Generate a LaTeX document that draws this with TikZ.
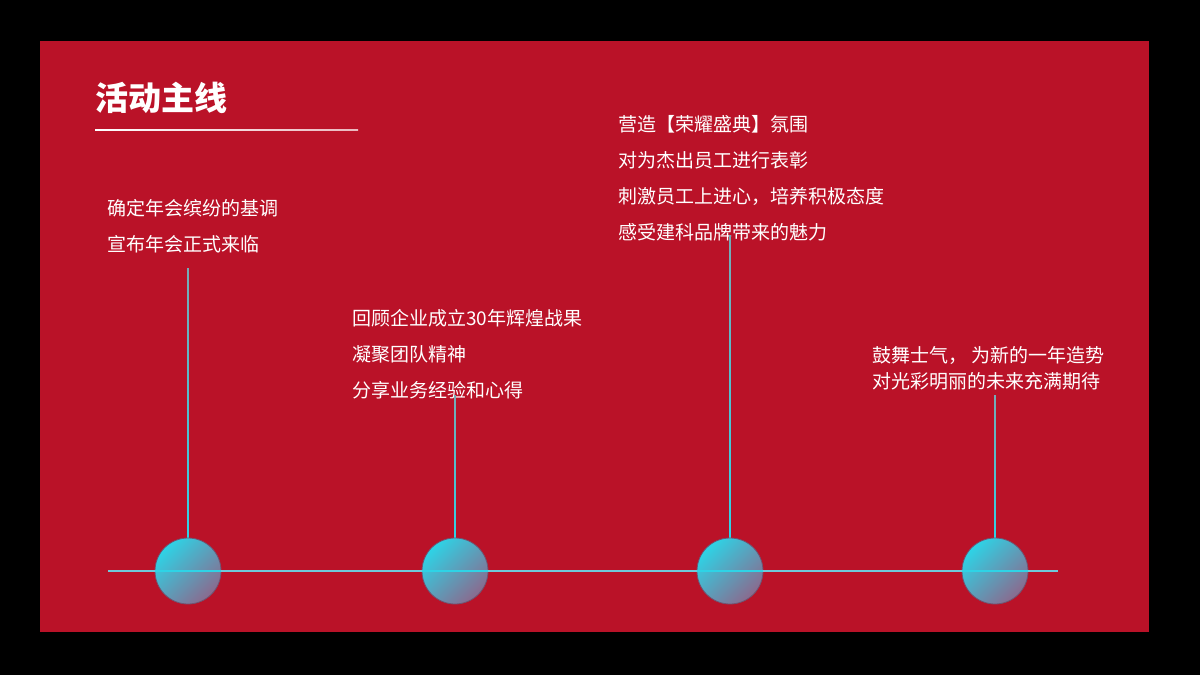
\documentclass[tikz,border=0pt]{standalone}
\usepackage{fontspec}
\newfontfamily\cjk{Noto Sans CJK SC}
\usetikzlibrary{shadings}
\definecolor{bgred}{HTML}{BA1228}
\definecolor{cy}{HTML}{2ED3E6}
\definecolor{pu}{HTML}{8A6A8E}
\definecolor{ln}{HTML}{6FC8DA}
\tikzset{
 txt/.style={text=white,font=\cjk\fontsize{19}{36}\selectfont,anchor=north west,align=left,inner sep=0},
 ball/.style={circle,minimum size=66,inner sep=0,draw=pu!80!black,line width=0.8,left color=cy,right color=pu,shading angle=45},
 stem/.style={line width=1.6,top color=ln!60!gray,bottom color=cy},
}
\begin{document}
\begin{tikzpicture}[x=1pt,y=-1pt]
\fill[black] (0,0) rectangle (1200,675);
\fill[bgred] (40,41) rectangle (1149,632);
\useasboundingbox (0,0) rectangle (1200,675);
\node[text=white,font=\cjk\bfseries\fontsize{33}{40}\selectfont,anchor=west,inner sep=0] (title) at (95,98) {活动主线};
\shade[left color=white,right color=white!70!bgred] (95,129.5) rectangle (358,130.8);
\node[txt] (t1) at (107,199) {确定年会缤纷的基调\\宣布年会正式来临};
\node[txt] (t2) at (352,309) {回顾企业成立30年辉煌战果\\凝聚团队精神\\分享业务经验和心得};
\node[txt] (t3) at (618,115) {营造【荣耀盛典】氛围\\对为杰出员工进行表彰\\刺激员工上进心，培养积极态度\\感受建科品牌带来的魅力};
\node[txt,font=\cjk\fontsize{19}{26}\selectfont] (t4) at (872,346) {鼓舞士气，\ 为新的一年造势\\对光彩明丽的未来充满期待};
\foreach \x/\y/\n in {188/268/a,455/395/b,730/235/c,995/395/d}{
 \shade[stem] (\x-0.8,\y) rectangle (\x+0.8,540);
 \node[ball] (\n) at (\x,571) {};
}
\coordinate (l0) at (108,571); \coordinate (l1) at (1058,571);
\draw[ln,line width=1.6] (l0) -- (l1);
\draw[cy,line width=1.6] (a.west) -- (a.east) (b.west) -- (b.east) (c.west) -- (c.east) (d.west) -- (d.east);
\end{tikzpicture}
\end{document}
